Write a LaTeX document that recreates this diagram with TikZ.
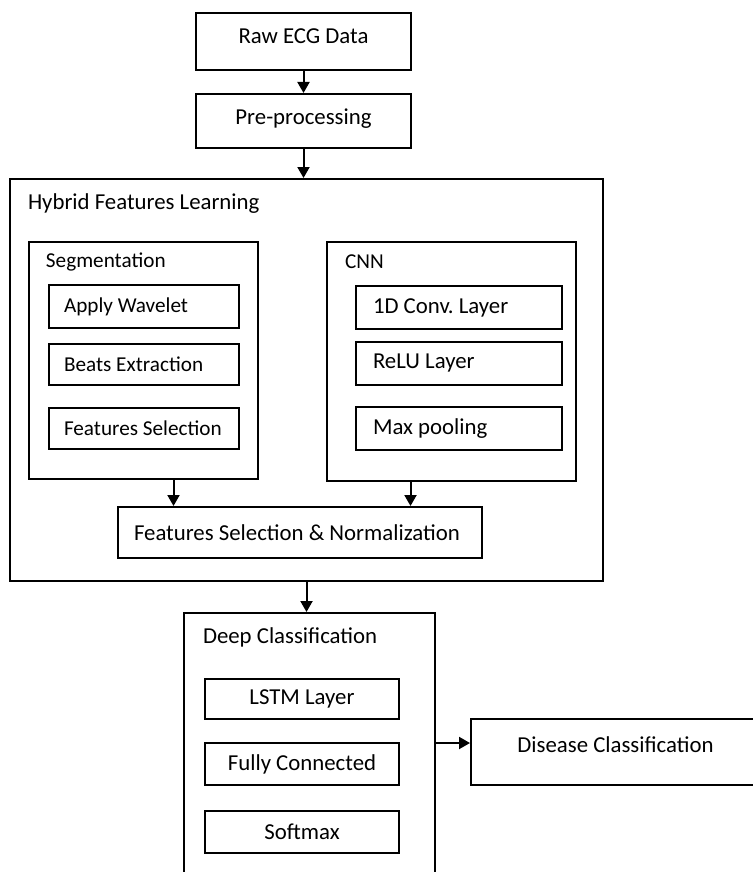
\documentclass[tikz,border=0pt]{standalone}
\usepackage{fontspec}
\setmainfont{Carlito}
\usetikzlibrary{arrows.meta}

\begin{document}
\begin{tikzpicture}[x=0.5pt,y=-0.5pt,line width=1pt,
  font=\fontsize{11.4}{13}\selectfont,
  main box/.style={draw,inner sep=0pt},
  left box/.style={draw,inner ysep=0pt,align=flush left},
  small/.style={font=\fontsize{10.6}{12}\selectfont},
  title/.style={anchor=west,inner sep=0pt},
  arr/.style={-{Triangle[length=5.5pt,width=6pt]}}]

  \clip (0,0) rectangle (753,872);

  % input
  \node[main box,minimum width=107.5pt,minimum height=28.5pt,text depth=5.5pt] (raw) at (303.5,41.5) {Raw ECG Data};
  \node[main box,minimum width=107.5pt,minimum height=27pt,text depth=4.3pt] (pre) at (303.5,121) {Pre-processing};

  % hybrid features learning
  \node[main box,minimum width=296.5pt,minimum height=201pt] (hybrid) at (306.5,380) {};
  \node[title] (hybridt) at (27,204) {Hybrid Features Learning};
  \node[main box,minimum width=114.5pt,minimum height=118.5pt] (seg) at (143.5,360.5) {};
  \node[title,small] (segt) at (45,262) {Segmentation};
  \node[main box,minimum width=124.5pt,minimum height=119.5pt] (cnn) at (451.5,361.5) {};
  \node[title,small] (cnnt) at (344,262) {CNN};

  \node[left box,small,inner xsep=7.5pt,text width=80pt,minimum height=21.5pt] (wav) at (144,306.5) {Apply Wavelet};
  \node[left box,small,inner xsep=7.5pt,text width=80pt,minimum height=20.5pt] (beats) at (144,364.5) {Beats Extraction};
  \node[left box,small,inner xsep=7.5pt,text width=80pt,minimum height=20.5pt] (fsel) at (144,428.5) {Features Selection};

  \node[left box,inner xsep=8.5pt,text width=86pt,minimum height=21.5pt] (conv) at (459,307.5) {1D Conv.\ Layer};
  \node[left box,inner xsep=8.5pt,text width=86pt,minimum height=21.5pt] (relu) at (459,363.5) {ReLU Layer};
  \node[left box,inner xsep=8.5pt,text width=86pt,minimum height=21.5pt] (pool) at (459,428.5) {Max pooling};

  \node[left box,inner xsep=8pt,text width=166pt,minimum height=25.5pt] (fsn) at (300,532.5) {Features Selection \& Normalization};

  % deep classification
  \node[main box,minimum width=125.5pt,minimum height=143.5pt] (deep) at (309.5,756.5) {};
  \node[title] (deept) at (202,637) {Deep Classification};
  \node[main box,minimum width=97pt,minimum height=20pt] (lstm) at (302,699) {LSTM Layer};
  \node[main box,minimum width=97pt,minimum height=21pt] (fc) at (302,764) {Fully Connected};
  \node[main box,minimum width=97pt,minimum height=21pt] (soft) at (302,832) {Softmax};

  \node[main box,minimum width=144.5pt,minimum height=33pt,text depth=7pt] (disease) at (615.5,752) {Disease Classification};

  \coordinate (segout) at ([xshift=15pt]seg.south);
  \coordinate (cnnout) at ([xshift=-20.5pt]cnn.south);
  \coordinate (deepout) at ([yshift=4.5pt]deep.east |- disease.west);

  \path[arr]
  (raw) edge (pre)
  (pre.south) edge (pre.south |- hybrid.north)
  (segout) edge (segout |- fsn.north)
  (cnnout) edge (cnnout |- fsn.north)
  (hybrid.south) edge (hybrid.south |- deep.north)
  (deepout) edge (deepout -| disease.west);

\end{tikzpicture}
\end{document}
